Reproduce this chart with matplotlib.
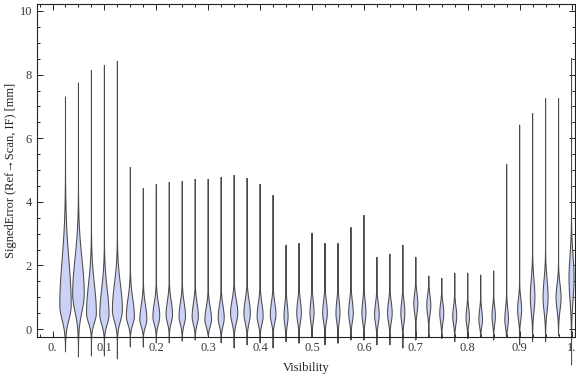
import numpy as np
import matplotlib
matplotlib.use("Agg")
from matplotlib import pyplot as plt
from matplotlib.ticker import MultipleLocator, FuncFormatter

matplotlib.rcParams['font.family'] = ['Liberation Serif', 'DejaVu Serif']
matplotlib.rcParams['font.size'] = 9

# visibility bins (violin centres)
visibility = [0.025, 0.05, 0.075, 0.1, 0.125, 0.15, 0.175, 0.2, 0.225, 0.25,
              0.275, 0.3, 0.325, 0.35, 0.375, 0.4, 0.425, 0.45, 0.475, 0.5,
              0.525, 0.55, 0.575, 0.6, 0.625, 0.65, 0.675, 0.7, 0.725, 0.75,
              0.775, 0.8, 0.825, 0.85, 0.875, 0.9, 0.925, 0.95, 0.975, 1.0]
# max / min signed error per bin [mm]
err_max = [7.3, 7.74, 8.14, 8.3, 8.43, 5.09, 4.43, 4.55, 4.62, 4.65,
           4.72, 4.72, 4.78, 4.84, 4.75, 4.56, 4.21, 2.64, 2.7, 3.02,
           2.7, 2.7, 3.2, 3.58, 2.26, 2.36, 2.64, 2.26, 1.67, 1.6,
           1.76, 1.76, 1.7, 1.83, 5.19, 6.42, 6.79, 7.26, 7.26, 8.52]
err_min = [-0.72, -0.88, -0.85, -0.85, -0.94, -0.57, -0.57, -0.44, -0.44, -0.38,
           -0.35, -0.2, -0.44, -0.6, -0.5, -0.44, -0.6, -0.4, -0.45, -0.25,
           -0.5, -0.45, -0.35, -0.35, -0.5, -0.5, -0.6, -0.35, -0.25, -0.3,
           -0.4, -0.3, -0.25, -0.35, -0.25, -0.5, -0.4, -0.4, -0.2, -1.13]
# density shape per bin: mode, peak half width (px), spread above / below mode
err_mode = [0.75, 1.1, 0.5, 0.45, 0.6, 0.4, 0.3, 0.4, 0.45, 0.4,
            0.4, 0.3, 0.35, 0.5, 0.5, 0.4, 0.45, 0.4, 0.5, 0.5,
            0.5, 0.5, 0.5, 0.5, 0.45, 0.5, 0.5, 0.8, 0.75, 0.5,
            0.4, 0.35, 0.3, 0.4, 0.3, 0.6, 1.0, 1.0, 1.0, 1.6]
peak_px = [5.7, 5.8, 4.9, 4.6, 5.0, 4.0, 3.5, 3.4, 3.2, 3.2,
           3.1, 3.3, 3.0, 3.6, 3.2, 3.0, 2.8, 2.0, 2.3, 2.0,
           2.3, 2.0, 2.3, 2.0, 2.3, 2.3, 2.0, 2.0, 2.0, 2.0,
           2.0, 1.7, 1.8, 1.7, 1.8, 2.0, 2.3, 2.5, 2.5, 2.5]
spread_up = [1.4, 1.1, 0.9, 0.8, 0.8, 0.55, 0.45, 0.42, 0.42, 0.42,
             0.4, 0.38, 0.38, 0.4, 0.4, 0.4, 0.38, 0.38, 0.38, 0.38,
             0.38, 0.38, 0.38, 0.38, 0.35, 0.35, 0.35, 0.32, 0.3, 0.3,
             0.3, 0.3, 0.3, 0.3, 0.35, 0.35, 0.55, 0.55, 0.4, 0.7]
spread_dn = [0.45, 0.55, 0.3, 0.3, 0.35, 0.25, 0.22, 0.25, 0.25, 0.25,
             0.25, 0.22, 0.25, 0.3, 0.3, 0.25, 0.25, 0.28, 0.28, 0.28,
             0.28, 0.28, 0.28, 0.28, 0.28, 0.28, 0.3, 0.3, 0.3, 0.28,
             0.25, 0.22, 0.22, 0.25, 0.25, 0.3, 0.45, 0.45, 0.4, 0.7]

fig = plt.figure(figsize=(5.76, 3.77), dpi=100)
ax = fig.add_axes([37/576, 40/377, 538/576, 333/377])
ax.set_xlim(-0.0299, 1.0067)
ax.set_ylim(-0.25, 10.22)

px_per_x = 538 / (1.0067 + 0.0299)

for i, x in enumerate(visibility):
    y = np.linspace(err_min[i], err_max[i], 400)
    d = y - err_mode[i]
    s = np.where(d > 0, spread_up[i], spread_dn[i])
    hw = peak_px[i] / px_per_x * np.exp(-0.5 * (d / s) ** 2)
    xs = np.concatenate([x - hw, (x + hw)[::-1]])
    ys = np.concatenate([y, y[::-1]])
    ax.fill(xs, ys, facecolor='#ccd2f7', edgecolor='#4a4a4a',
            linewidth=0.75, clip_on=False, zorder=3)

for sp in ax.spines.values():
    sp.set_color('#222222')
    sp.set_linewidth(0.8)
    sp.set_zorder(4)

ax.xaxis.set_major_locator(MultipleLocator(0.1))
ax.xaxis.set_minor_locator(MultipleLocator(0.025))
ax.yaxis.set_major_locator(MultipleLocator(2))
ax.yaxis.set_minor_locator(MultipleLocator(0.5))


def fmt_x(v, pos):
    if abs(v) < 1e-9:
        return '0.'
    if abs(v - 1) < 1e-9:
        return '1.'
    return '%.1f' % v


ax.xaxis.set_major_formatter(FuncFormatter(fmt_x))
ax.yaxis.set_major_formatter(FuncFormatter(lambda v, p: '%d' % round(v)))
ax.tick_params(which='both', direction='in', top=True, right=True,
               color='#222222', width=0.7, labelcolor='#3a3a3a', labelsize=9)
ax.tick_params(which='major', length=4.5, pad=3.5)
ax.tick_params(which='minor', length=2.5)

ax.set_xlabel('Visibility', color='#222222', fontsize=9, labelpad=6)
ax.set_ylabel('SignedError (Ref\u2192Scan, IF) [mm]', color='#222222',
              fontsize=9, labelpad=2)

fig.savefig('out.png', dpi=100)
